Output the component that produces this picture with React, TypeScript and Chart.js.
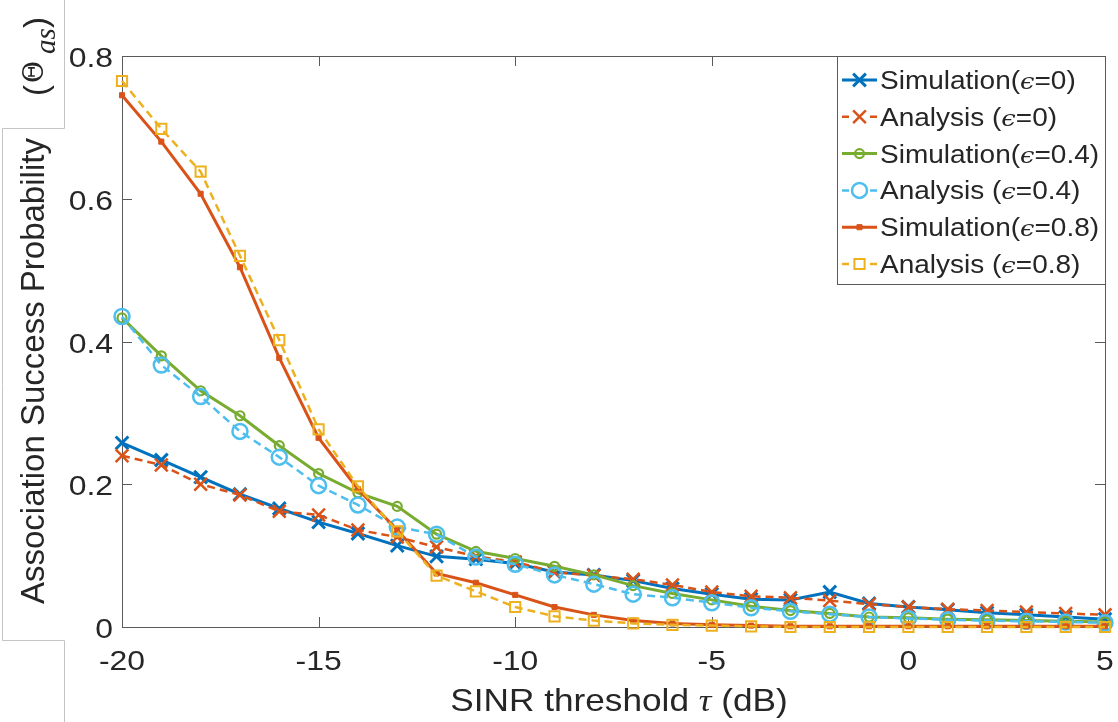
import React, { useEffect, useRef } from 'react';
import { Chart, registerables } from 'chart.js';

Chart.register(...registerables);

// ---------- data ----------
const thresholdsDb = [-20, -19, -18, -17, -16, -15, -14, -13, -12, -11, -10, -9, -8, -7, -6, -5, -4, -3, -2, -1, 0, 1, 2, 3, 4, 5];
const simEps0 = [0.258, 0.234, 0.210, 0.186, 0.166, 0.147, 0.131, 0.114, 0.099, 0.095, 0.089, 0.077, 0.073, 0.065, 0.054, 0.046, 0.039, 0.038, 0.049, 0.033, 0.028, 0.024, 0.020, 0.017, 0.014, 0.011];
const anaEps0 = [0.240, 0.227, 0.200, 0.185, 0.162, 0.157, 0.136, 0.126, 0.112, 0.099, 0.091, 0.077, 0.072, 0.067, 0.059, 0.049, 0.043, 0.041, 0.037, 0.032, 0.028, 0.025, 0.023, 0.021, 0.019, 0.017];
const simEps04 = [0.433, 0.380, 0.331, 0.296, 0.254, 0.215, 0.188, 0.169, 0.130, 0.106, 0.096, 0.085, 0.073, 0.058, 0.047, 0.038, 0.029, 0.023, 0.019, 0.014, 0.013, 0.011, 0.010, 0.009, 0.008, 0.007];
const anaEps04 = [0.435, 0.367, 0.323, 0.274, 0.238, 0.198, 0.171, 0.140, 0.130, 0.098, 0.088, 0.073, 0.060, 0.046, 0.041, 0.034, 0.027, 0.022, 0.018, 0.014, 0.012, 0.010, 0.009, 0.008, 0.007, 0.006];
const simEps08 = [0.745, 0.680, 0.607, 0.504, 0.377, 0.265, 0.193, 0.136, 0.075, 0.062, 0.045, 0.028, 0.017, 0.009, 0.005, 0.003, 0.002, 0.001, 0.001, 0.001, 0.001, 0.001, 0.001, 0.001, 0.001, 0.001];
const anaEps08 = [0.765, 0.698, 0.638, 0.520, 0.402, 0.277, 0.197, 0.134, 0.072, 0.050, 0.028, 0.015, 0.009, 0.005, 0.003, 0.002, 0.001, 0.000, 0.000, 0.000, 0.000, 0.000, 0.000, 0.000, 0.000, 0.000];

const xTickValues = [-20, -15, -10, -5, 0, 5];
const xTickLabels = ['-20', '-15', '-10', '-5', '0', '5'];
const yTickValues = [0, 0.2, 0.4, 0.6, 0.8];
const yTickLabels = ['0', '0.2', '0.4', '0.6', '0.8'];

const legendPrefixes = ['Simulation(', 'Analysis (', 'Simulation(', 'Analysis (', 'Simulation(', 'Analysis ('];
const legendEpsValues = ['0', '0', '0.4', '0.4', '0.8', '0.8'];

const xTitleMain = 'SINR threshold ';
const xTitleSymbol = 'τ';
const xTitleUnit = ' (dB)';
const yTitleMain = 'Association Success Probability';

// ---------- styles ----------
const SANS = "'Liberation Sans', Arial, Helvetica, sans-serif";
const SERIF = "'Liberation Serif', 'DejaVu Serif', serif";
const TEXT = '#262626';
const FRAME = '#5a5a5a';

const BLUE = '#0072BD';
const ORANGE = '#D95319';
const GREEN = '#77AC30';
const CYAN = '#4DBEEE';
const YELLOW = '#EDB120';

type MarkerKind = 'x' | 'o' | 'sq';
const seriesStyles = [
  { color: BLUE, dash: [] as number[], width: 3, marker: 'x' as MarkerKind, style: 'crossRot', radius: 9, mWidth: 3, fill: false },
  { color: ORANGE, dash: [8, 5], width: 2.5, marker: 'x' as MarkerKind, style: 'crossRot', radius: 9, mWidth: 2.5, fill: false },
  { color: GREEN, dash: [] as number[], width: 3, marker: 'o' as MarkerKind, style: 'circle', radius: 4.5, mWidth: 2.2, fill: false },
  { color: CYAN, dash: [8, 5], width: 2.5, marker: 'o' as MarkerKind, style: 'circle', radius: 7.5, mWidth: 2.5, fill: false },
  { color: ORANGE, dash: [] as number[], width: 3, marker: 'sq' as MarkerKind, style: 'rect', radius: 3.6, mWidth: 1, fill: true },
  { color: YELLOW, dash: [8, 5], width: 2.5, marker: 'sq' as MarkerKind, style: 'rect', radius: 7.2, mWidth: 2, fill: false },
];
const seriesValues = [simEps0, anaEps0, simEps04, anaEps04, simEps08, anaEps08];

type Part = { t: string; font: string; dy?: number };

function partsWidth(ctx: CanvasRenderingContext2D, parts: Part[]) {
  let w = 0;
  for (const p of parts) {
    ctx.font = p.font;
    w += ctx.measureText(p.t).width;
  }
  return w;
}

function drawRich(ctx: CanvasRenderingContext2D, parts: Part[], x: number, y: number, align: 'left' | 'center' | 'right', sx: number) {
  const w = partsWidth(ctx, parts);
  ctx.save();
  ctx.translate(x, y);
  ctx.scale(sx, 1);
  ctx.textAlign = 'left';
  ctx.textBaseline = 'alphabetic';
  ctx.fillStyle = TEXT;
  let cx = align === 'left' ? 0 : align === 'center' ? -w / 2 : -w;
  for (const p of parts) {
    ctx.font = p.font;
    ctx.fillText(p.t, cx, p.dy || 0);
    cx += ctx.measureText(p.t).width;
  }
  ctx.restore();
}

function drawMarker(ctx: CanvasRenderingContext2D, kind: MarkerKind, x: number, y: number, r: number, color: string, lw: number, fill: boolean) {
  ctx.save();
  ctx.setLineDash([]);
  ctx.strokeStyle = color;
  ctx.fillStyle = color;
  ctx.lineWidth = lw;
  ctx.beginPath();
  if (kind === 'x') {
    const d = r * Math.SQRT1_2;
    ctx.moveTo(x - d, y - d); ctx.lineTo(x + d, y + d);
    ctx.moveTo(x + d, y - d); ctx.lineTo(x - d, y + d);
    ctx.stroke();
  } else if (kind === 'o') {
    ctx.arc(x, y, r, 0, Math.PI * 2);
    ctx.stroke();
  } else {
    const s = r * Math.SQRT1_2;
    ctx.rect(x - s, y - s, 2 * s, 2 * s);
    if (fill) ctx.fill();
    ctx.stroke();
  }
  ctx.restore();
}

const decorPlugin = {
  id: 'decor',
  beforeDraw(chart: any) {
    const ctx = chart.ctx as CanvasRenderingContext2D;
    ctx.save();
    ctx.fillStyle = '#ffffff';
    ctx.fillRect(0, 0, chart.width, chart.height);
    ctx.restore();
  },
  beforeDatasetsDraw(chart: any) {
    const ctx = chart.ctx as CanvasRenderingContext2D;
    const { left, right, top, bottom } = chart.chartArea;
    const xs = chart.scales.x;
    const ys = chart.scales.y;
    ctx.save();
    ctx.strokeStyle = FRAME;
    ctx.lineWidth = 1;
    ctx.strokeRect(Math.round(left) + 0.5, Math.round(top) + 0.5, Math.round(right - left), Math.round(bottom - top));
    ctx.beginPath();
    const tl = 10;
    for (const v of xTickValues) {
      const px = Math.round(xs.getPixelForValue(v)) + 0.5;
      ctx.moveTo(px, bottom); ctx.lineTo(px, bottom - tl);
      ctx.moveTo(px, top); ctx.lineTo(px, top + tl);
    }
    for (const v of yTickValues) {
      const py = Math.round(ys.getPixelForValue(v)) + 0.5;
      ctx.moveTo(left, py); ctx.lineTo(left + tl, py);
      ctx.moveTo(right, py); ctx.lineTo(right - tl, py);
    }
    ctx.stroke();
    ctx.restore();
  },
  afterDatasetsDraw(chart: any) {
    const ctx = chart.ctx as CanvasRenderingContext2D;
    const { right, top } = chart.chartArea;
    // legend box
    const bx = 837, by = top, bw = right - 837, bh = 228;
    ctx.save();
    ctx.fillStyle = '#ffffff';
    ctx.fillRect(bx, by, bw, bh);
    ctx.strokeStyle = FRAME;
    ctx.lineWidth = 1;
    ctx.strokeRect(bx + 0.5, by + 0.5, bw, bh);
    ctx.restore();
    const legFont = `25px ${SANS}`;
    const epsFont = `italic 23px 'DejaVu Serif', serif`;
    for (let i = 0; i < seriesStyles.length; i++) {
      const st = seriesStyles[i];
      const base = 89 + i * 36.8;
      const cy = base - 9;
      ctx.save();
      ctx.strokeStyle = st.color;
      ctx.lineWidth = st.width;
      ctx.beginPath();
      if (st.dash.length) {
        ctx.moveTo(842, cy); ctx.lineTo(849, cy);
        ctx.moveTo(870, cy); ctx.lineTo(877, cy);
      } else {
        ctx.moveTo(842, cy); ctx.lineTo(877, cy);
      }
      ctx.stroke();
      ctx.restore();
      drawMarker(ctx, st.marker, 859.5, cy, st.radius, st.color, st.mWidth, st.fill);
      drawRich(ctx, [
        { t: legendPrefixes[i], font: legFont },
        { t: 'ϵ', font: epsFont },
        { t: '=' + legendEpsValues[i] + ')', font: legFont },
      ], 880, base, 'left', 1.12);
    }
  },
  afterDraw(chart: any) {
    const ctx = chart.ctx as CanvasRenderingContext2D;
    const xs = chart.scales.x;
    const ys = chart.scales.y;
    const tickFont = `28px ${SANS}`;
    for (let i = 0; i < xTickValues.length; i++) {
      const px = xs.getPixelForValue(xTickValues[i]);
      drawRich(ctx, [{ t: xTickLabels[i], font: tickFont }], px, 670, 'center', 1.14);
    }
    for (let i = 0; i < yTickValues.length; i++) {
      const py = ys.getPixelForValue(yTickValues[i]);
      drawRich(ctx, [{ t: yTickLabels[i], font: tickFont }], 113, py + 11, 'right', 1.14);
    }
    // x title
    drawRich(ctx, [
      { t: xTitleMain, font: `32px ${SANS}` },
      { t: xTitleSymbol, font: `italic 32px ${SERIF}` },
      { t: xTitleUnit, font: `32px ${SANS}` },
    ], 619, 711, 'center', 1.1);

    // y title boxes (gray frames)
    ctx.save();
    ctx.strokeStyle = '#c4c4c4';
    ctx.lineWidth = 1;
    ctx.beginPath();
    ctx.moveTo(64.5, 0); ctx.lineTo(64.5, 128.5);
    ctx.lineTo(2.5, 128.5); ctx.lineTo(2.5, 640.5); ctx.lineTo(64.5, 640.5);
    ctx.lineTo(64.5, 722);
    ctx.stroke();
    ctx.restore();

    // y title main text (rotated)
    ctx.save();
    ctx.translate(44, 604);
    ctx.rotate(-Math.PI / 2);
    drawRich(ctx, [{ t: yTitleMain, font: `33px ${SANS}` }], 0, 0, 'left', 1);
    ctx.restore();

    // (Θ_as) part
    ctx.save();
    ctx.translate(0, 96);
    ctx.rotate(-Math.PI / 2);
    ctx.fillStyle = TEXT;
    ctx.textBaseline = 'alphabetic';
    ctx.textAlign = 'left';
    ctx.font = `33px ${SANS}`;
    ctx.fillText('(', 0, 47);
    ctx.font = `27px 'DejaVu Serif', serif`;
    ctx.fillText('Θ', 13, 43);
    ctx.font = `italic 29px ${SERIF}`;
    ctx.fillText('as', 42, 55);
    ctx.font = `33px ${SANS}`;
    ctx.fillText(')', 68, 47);
    ctx.restore();
  },
};

export default function App() {
  const canvasRef = useRef<HTMLCanvasElement | null>(null);

  useEffect(() => {
    const canvas = canvasRef.current;
    if (!canvas) return;
    const datasets = seriesValues.map((vals, i) => {
      const st = seriesStyles[i];
      return {
        label: legendPrefixes[i] + 'ϵ=' + legendEpsValues[i] + ')',
        data: thresholdsDb.map((x, j) => ({ x, y: vals[j] })),
        borderColor: st.color,
        borderWidth: st.width,
        borderDash: st.dash,
        backgroundColor: st.color,
        pointStyle: st.style,
        pointRadius: st.radius,
        pointBorderWidth: st.mWidth,
        pointBorderColor: st.color,
        pointBackgroundColor: st.fill ? st.color : 'rgba(0,0,0,0)',
        tension: 0,
        fill: false,
        clip: false as any,
        order: seriesStyles.length - 1 - i,
      };
    });
    const chart = new Chart(canvas, {
      type: 'line',
      data: { datasets },
      options: {
        animation: false,
        responsive: false,
        devicePixelRatio: 1,
        layout: { padding: { left: 0, right: 13, top: 56, bottom: 0 } },
        plugins: { legend: { display: false }, tooltip: { enabled: false } },
        scales: {
          x: {
            type: 'linear',
            min: -20,
            max: 5,
            ticks: { display: false, stepSize: 5 },
            grid: { display: false, drawTicks: false },
            border: { display: false },
            afterFit: (s: any) => { s.height = 95; },
          },
          y: {
            type: 'linear',
            min: 0,
            max: 0.8,
            ticks: { display: false, stepSize: 0.2 },
            grid: { display: false, drawTicks: false },
            border: { display: false },
            afterFit: (s: any) => { s.width = 122; },
          },
        },
      } as any,
      plugins: [decorPlugin],
    });
    return () => chart.destroy();
  }, []);

  return (
    <div style={{ position: 'absolute', left: 0, top: 0, width: 1118, height: 722, background: '#fff' }}>
      <canvas ref={canvasRef} width={1118} height={722} style={{ display: 'block' }} />
    </div>
  );
}
